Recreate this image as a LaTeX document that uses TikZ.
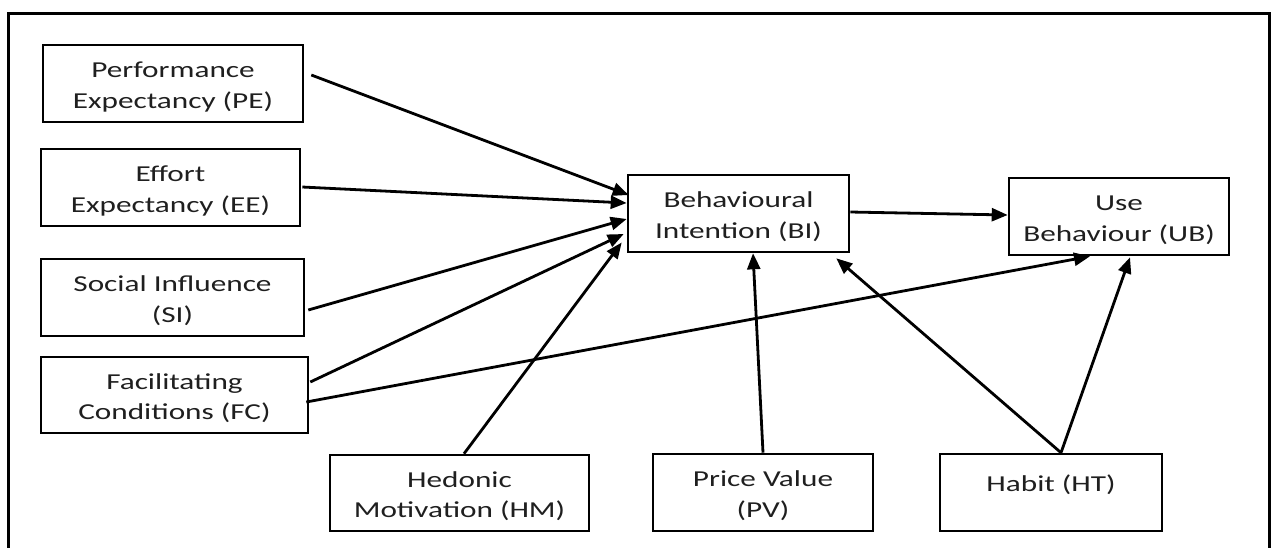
\documentclass[tikz,border=0pt]{standalone}
\usepackage{fontspec}
\setmainfont{Carlito}[FakeStretch=1.37]
\usetikzlibrary{arrows.meta,calc}
\newcommand\bxt[2]{\raisebox{#1}[\height][\depth]{\begin{tabular}{@{}c@{}}#2\end{tabular}}}
\begin{document}
\begin{tikzpicture}[x=1pt,y=-1pt,
  box/.style={draw, line width=2.6pt, inner sep=0pt, text=black!88,
    font=\fontsize{22.8}{30.5}\selectfont},
  conn/.style={line width=2.8pt, -{Triangle[length=16pt,width=13pt]}}]
\useasboundingbox (0,0) rectangle (1274,547);
\draw[line width=3pt] (8,560) -- (8,13) -- (1269,13) -- (1269,560);
\node[box, minimum width=260pt, minimum height=77pt] (pe) at (173,83.5) {\bxt{-3.2pt}{Performance\\Expectancy (PE)}};
\node[box, minimum width=259pt, minimum height=77pt] (ee) at (170.5,187.5) {\bxt{-3.2pt}{Effort\\Expectancy (EE)}};
\node[box, minimum width=263pt, minimum height=77pt] (si) at (172.5,297.5) {\bxt{-3.2pt}{Social Influence\\(SI)}};
\node[box, minimum width=267pt, minimum height=76pt] (fc) at (174.5,395) {\bxt{-3.2pt}{Facilitating\\Conditions (FC)}};
\node[box, minimum width=221pt, minimum height=77pt] (bi) at (738.5,213.5) {\bxt{-3.2pt}{Behavioural\\Intention (BI)}};
\node[box, minimum width=220pt, minimum height=77pt] (ub) at (1119,216.5) {\bxt{-3.2pt}{Use\\Behaviour (UB)}};
\node[box, minimum width=259pt, minimum height=76pt] (hm) at (459.5,493) {\bxt{-3.2pt}{Hedonic\\Motivation (HM)}};
\node[box, minimum width=220pt, minimum height=77pt] (pv) at (763,492.5) {\bxt{-3.2pt}{Price Value\\(PV)}};
\node[box, minimum width=222pt, minimum height=77pt] (ht) at (1051,492.5) {\bxt{7.6pt}{Habit (HT)}};
\draw[conn] ($(pe.east)+(7,-8.5)$) -- ($(bi.west)+(2,-18.5)$);
\draw[conn] ($(ee.east)+(1,-0.5)$) -- ($(bi.west)+(0,-10.5)$);
\draw[conn] ($(si.east)+(3,12.5)$) -- ($(bi.west)+(0,5.5)$);
\draw[conn] ($(fc.east)+(1,-13)$) -- ($(bi.west)+(-3,20.5)$);
\draw[conn] ($(fc.east)+(-3,7)$) -- ($(ub.south)+(-29,0)$);
\draw[conn] ($(hm.north)+(4.5,0)$) -- ($(bi.west)+(-5,29)$);
\draw[conn] (pv.north) -- ($(bi.south)+(14.5,0)$);
\draw[conn] ($(ht.north)+(10,0)$) -- ($(bi.south east)+(-14,5)$);
\draw[conn] ($(ht.north)+(10,0)$) -- ($(ub.south)+(11,1)$);
\draw[conn] ($(bi.east)+(0,-1.5)$) -- ($(ub.west)+(0,-1.5)$);
\end{tikzpicture}
\end{document}
